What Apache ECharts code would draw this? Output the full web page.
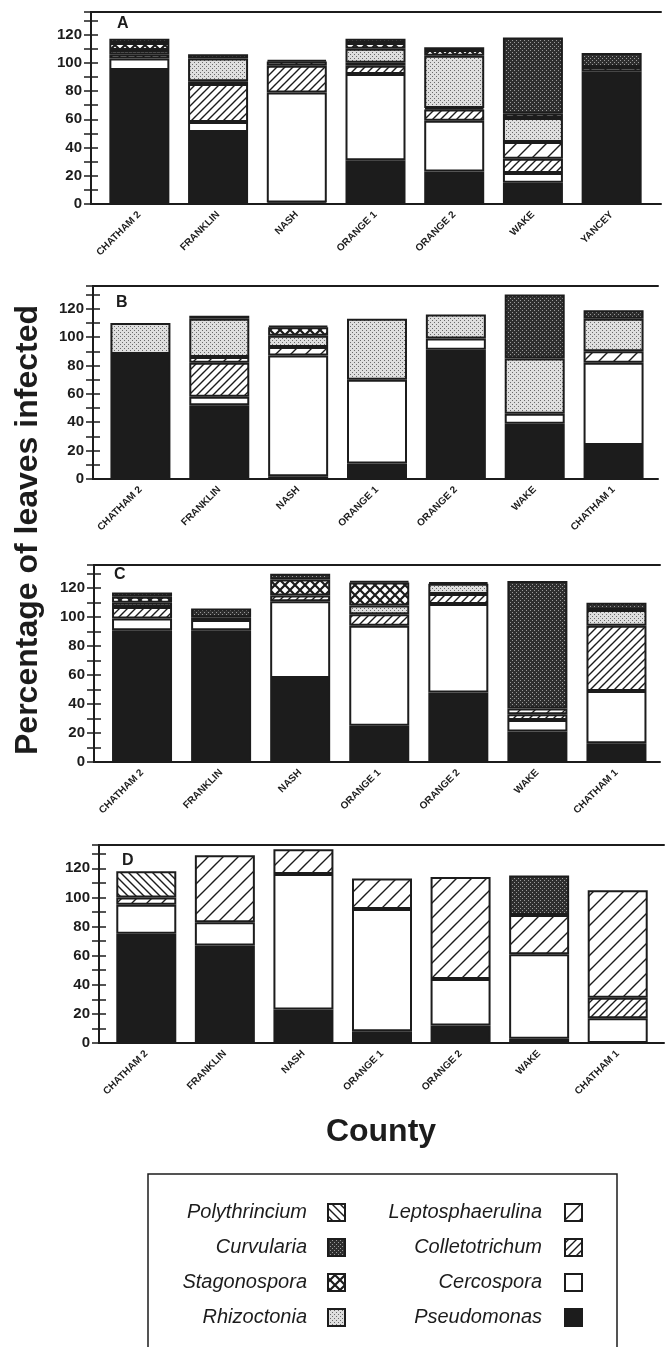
<!DOCTYPE html>
<html><head><meta charset="utf-8">
<script src="https://cdn.jsdelivr.net/npm/echarts@6/dist/echarts.min.js"></script>
<style>html,body{margin:0;padding:0;background:#fff}#c{width:665px;height:1347px}</style>
</head><body><div id="c"></div><script>
// ---------- DATA ----------
const countiesA = ['CHATHAM 2','FRANKLIN','NASH','ORANGE 1','ORANGE 2','WAKE','YANCEY'];
const countiesBCD = ['CHATHAM 2','FRANKLIN','NASH','ORANGE 1','ORANGE 2','WAKE','CHATHAM 1'];
const yTickValues = [0,20,40,60,80,100,120];
const panelLabels = ['A','B','C','D'];
const seriesNames = ['Pseudomonas','Cercospora','Colletotrichum','Leptosphaerulina','Rhizoctonia','Stagonospora','Curvularia','Polythrincium'];
const yAxisTitle = 'Percentage of leaves infected';
const xAxisTitle = 'County';

// Panel A
const pseudomonasA     = [95, 51, 1, 31, 23, 15, 94];
const cercosporaA      = [8, 7, 78, 61, 36, 7, 0];
const colletotrichumA  = [3, 27, 19, 6, 8, 10, 0];
const leptosphaerulinaA= [0, 2, 3, 2, 1, 12, 3];
const rhizoctoniaA     = [3, 16, 0, 10, 37, 17, 0];
const stagonosporaA    = [5, 0, 0, 4, 4, 3, 0];
const curvulariaA      = [3, 3, 1, 3, 2, 54, 10];
const polythinciumA    = [0, 0, 0, 0, 0, 0, 0];
// Panel B
const pseudomonasB     = [88, 52, 2, 11, 91, 39, 24];
const cercosporaB      = [0, 6, 85, 59, 8, 7, 58];
const colletotrichumB  = [0, 24, 0, 0, 0, 0, 0];
const leptosphaerulinaB= [0, 4, 6, 0, 0, 0, 8];
const rhizoctoniaB     = [22, 27, 8, 43, 17, 39, 23];
const stagonosporaB    = [0, 0, 6, 0, 0, 0, 0];
const curvulariaB      = [0, 2, 1, 0, 0, 45, 6];
const polythinciumB    = [0, 0, 0, 0, 0, 0, 0];
// Panel C
const pseudomonasC     = [91, 91, 58, 25, 48, 21, 13];
const cercosporaC      = [8, 7, 53, 69, 61, 8, 36];
const colletotrichumC  = [8, 0, 4, 8, 7, 4, 45];
const leptosphaerulinaC= [0, 2, 0, 0, 0, 4, 0];
const rhizoctoniaC     = [3, 0, 0, 6, 7, 0, 11];
const stagonosporaC    = [4, 0, 11, 16, 0, 0, 0];
const curvulariaC      = [3, 6, 4, 1, 1, 88, 5];
const polythinciumC    = [0, 0, 0, 0, 0, 0, 0];
// Panel D
const pseudomonasD     = [75, 67, 23, 8, 12, 3, 0];
const cercosporaD      = [20, 16, 93, 84, 32, 58, 17];
const colletotrichumD  = [0, 0, 0, 0, 0, 0, 14];
const leptosphaerulinaD= [5, 46, 17, 21, 70, 27, 74];
const rhizoctoniaD     = [0, 0, 0, 0, 0, 0, 0];
const stagonosporaD    = [0, 0, 0, 0, 0, 0, 0];
const curvulariaD      = [0, 0, 0, 0, 0, 27, 0];
const polythinciumD    = [18, 0, 0, 0, 0, 0, 0];

const panels = [
  {cats: countiesA, vals: [pseudomonasA,cercosporaA,colletotrichumA,leptosphaerulinaA,rhizoctoniaA,stagonosporaA,curvulariaA,polythinciumA]},
  {cats: countiesBCD, vals: [pseudomonasB,cercosporaB,colletotrichumB,leptosphaerulinaB,rhizoctoniaB,stagonosporaB,curvulariaB,polythinciumB]},
  {cats: countiesBCD, vals: [pseudomonasC,cercosporaC,colletotrichumC,leptosphaerulinaC,rhizoctoniaC,stagonosporaC,curvulariaC,polythinciumC]},
  {cats: countiesBCD, vals: [pseudomonasD,cercosporaD,colletotrichumD,leptosphaerulinaD,rhizoctoniaD,stagonosporaD,curvulariaD,polythinciumD]}
];

// ---------- LAYOUT ----------
const geom = [
  {fl:91, fr:661, top:12,  bot:204,  dl:100, dr:651, lx:117, ly:24},
  {fl:93, fr:658, top:286, bot:479,  dl:101, dr:653, lx:116, ly:303},
  {fl:94, fr:660, top:565, bot:762,  dl:102.5, dr:656, lx:114, ly:575},
  {fl:99, fr:664, top:845, bot:1043, dl:107, dr:657, lx:122, ly:861}
];
const YMAX = 136;
const INK = '#1c1c1c';
const FONT = 'Liberation Sans, Arial, sans-serif';

// ---------- PATTERNS ----------
function mk(w,h,draw){const c=document.createElement('canvas');c.width=w;c.height=h;const g=c.getContext('2d');draw(g,w,h);return {image:c,repeat:'repeat'};}
function hatch(s,lw,dir){
  return mk(s,s,(g)=>{g.fillStyle='#fff';g.fillRect(0,0,s,s);g.strokeStyle=INK;g.lineWidth=lw;g.beginPath();
    if(dir>0){g.moveTo(-2,2);g.lineTo(2,-2);g.moveTo(0,s);g.lineTo(s,0);g.moveTo(s-2,s+2);g.lineTo(s+2,s-2);}
    else{g.moveTo(-2,s-2);g.lineTo(2,s+2);g.moveTo(0,0);g.lineTo(s,s);g.moveTo(s-2,-2);g.lineTo(s+2,2);}
    g.stroke();});
}
function stipple(bg,dot){
  return mk(4,4,(g)=>{g.fillStyle=bg;g.fillRect(0,0,4,4);g.fillStyle=dot;g.fillRect(0,0,1,1);g.fillRect(2,2,1,1);});
}
const patterns = {
  Pseudomonas: INK,
  Cercospora: '#ffffff',
  Colletotrichum: hatch(8,1.4,1),
  Leptosphaerulina: hatch(15,1.4,1),
  Rhizoctonia: stipple('#dedede','#6a6a6a'),
  Stagonospora: mk(10,10,(g)=>{g.fillStyle='#fff';g.fillRect(0,0,10,10);g.strokeStyle=INK;g.lineWidth=2.2;g.beginPath();
      g.moveTo(0,0);g.lineTo(10,10);g.moveTo(0,10);g.lineTo(10,0);g.stroke();}),
  Curvularia: stipple('#2e2e2e','#9a9a9a'),
  Polythrincium: hatch(8,1.4,-1)
};

// ---------- OPTION ----------
const grid=[], xAxis=[], yAxis=[], series=[];
panels.forEach((p,i)=>{
  const g = geom[i];
  grid.push({left:g.fl, top:g.top, width:g.fr-g.fl, height:g.bot-g.top, containLabel:false});
  grid.push({left:g.dl, top:g.top, width:g.dr-g.dl, height:g.bot-g.top, containLabel:false});
  const frameX = (pos)=>({type:'value', gridIndex:2*i, position:pos, min:0, max:1,
      axisLine:{show:true, onZero:false, lineStyle:{color:INK, width:2}}, axisTick:{show:false}, axisLabel:{show:false}, splitLine:{show:false}});
  xAxis.push(frameX('bottom'), frameX('top'));
  xAxis.push({type:'category', gridIndex:2*i+1, data:p.cats, axisLine:{show:false}, axisTick:{show:false}, splitLine:{show:false},
      axisLabel:{rotate:45, fontSize:10, fontWeight:'bold', fontFamily:FONT, color:INK, margin:9, interval:0}});
  const frameY = (pos,lab)=>({type:'value', gridIndex:2*i, position:pos, min:0, max:YMAX, interval:10,
      axisLine:{show:true, lineStyle:{color:INK, width:2}},
      axisTick:{show:true, inside:true, length:7, lineStyle:{color:INK, width:1.5}},
      splitLine:{show:false},
      axisLabel:{show:lab, formatter:(v)=> (yTickValues.indexOf(v)>=0 ? String(v) : ''), fontSize:15, fontWeight:'bold', fontFamily:FONT, color:INK, margin:9}});
  yAxis.push(frameY('left',true), frameY('right',false));
  yAxis.push({type:'value', gridIndex:2*i+1, min:0, max:YMAX, show:false});
  seriesNames.forEach((name,k)=>{
    series.push({type:'bar', name, stack:'s'+i, xAxisIndex:3*i+2, yAxisIndex:3*i+2, barWidth:60,
      data:p.vals[k].map(v=> v===0 ? '-' : v),
      itemStyle:{color:patterns[name], borderColor:INK, borderWidth:2}, silent:true});
  });
});

const graphic = [];
geom.forEach((g,i)=>graphic.push({type:'text', x:g.lx, y:g.ly, style:{text:panelLabels[i], font:'bold 16px '+FONT, fill:INK, textVerticalAlign:'middle'}}));
graphic.push({type:'text', x:28, y:530, rotation:Math.PI/2, style:{text:yAxisTitle, font:'bold 32px '+FONT, fill:INK, textAlign:'center', textVerticalAlign:'middle'}});
graphic.push({type:'text', x:381, y:1132, style:{text:xAxisTitle, font:'bold 32px '+FONT, fill:INK, textAlign:'center', textVerticalAlign:'middle'}});
// legend box
graphic.push({type:'rect', shape:{x:148, y:1174, width:469, height:220}, style:{fill:'none', stroke:INK, lineWidth:1.5}});
const legendLeft = ['Polythrincium','Curvularia','Stagonospora','Rhizoctonia'];
const legendRight = ['Leptosphaerulina','Colletotrichum','Cercospora','Pseudomonas'];
const rowsY = [1212,1247,1282,1317];
[[legendLeft,307,328],[legendRight,542,565]].forEach(([names,tx,ix])=>{
  names.forEach((n,r)=>{
    graphic.push({type:'text', x:tx, y:rowsY[r], style:{text:n, font:'italic 20px '+FONT, fill:INK, textAlign:'right', textVerticalAlign:'middle'}});
    graphic.push({type:'rect', shape:{x:ix, y:rowsY[r]-8, width:17, height:17}, style:{fill:patterns[n], stroke:INK, lineWidth:2}});
  });
});

const chart = echarts.init(document.getElementById('c'), null, {renderer:'canvas'});
chart.setOption({animation:false, backgroundColor:'#fff', grid, xAxis, yAxis, series, graphic});
</script></body></html>
